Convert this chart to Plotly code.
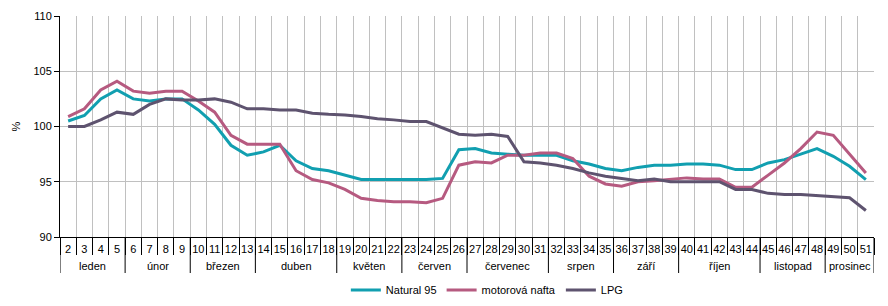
import plotly.graph_objects as go

weeks = list(range(2, 52))
month_names = ["leden", "únor", "březen", "duben", "květen", "červen",
               "červenec", "srpen", "září", "říjen", "listopad", "prosinec"]
month_weeks = [4, 4, 4, 5, 4, 4, 5, 4, 4, 5, 4, 3]

natural95 = [100.5, 101.0, 102.5, 103.3, 102.5, 102.3, 102.5, 102.5, 101.5, 100.2,
             98.3, 97.4, 97.7, 98.3, 96.9, 96.2, 96.0, 95.6, 95.2, 95.2,
             95.2, 95.2, 95.2, 95.3, 97.9, 98.0, 97.6, 97.5, 97.4, 97.4,
             97.4, 96.9, 96.6, 96.2, 96.0, 96.3, 96.5, 96.5, 96.6, 96.6,
             96.5, 96.1, 96.1, 96.7, 97.0, 97.5, 98.0, 97.3, 96.4, 95.2]
nafta = [100.9, 101.6, 103.3, 104.1, 103.2, 103.0, 103.2, 103.2, 102.3, 101.3,
         99.2, 98.4, 98.4, 98.4, 96.0, 95.2, 94.9, 94.3, 93.5, 93.3,
         93.2, 93.2, 93.1, 93.5, 96.5, 96.8, 96.7, 97.4, 97.4, 97.6,
         97.6, 97.1, 95.5, 94.8, 94.6, 95.0, 95.1, 95.2, 95.35, 95.25,
         95.25, 94.5, 94.5, 95.6, 96.7, 98.0, 99.5, 99.2, 97.5, 95.8]
lpg = [100.0, 100.0, 100.6, 101.3, 101.1, 102.0, 102.5, 102.4, 102.4, 102.5,
       102.2, 101.6, 101.6, 101.5, 101.5, 101.2, 101.1, 101.05, 100.9, 100.7,
       100.6, 100.45, 100.45, 99.9, 99.3, 99.2, 99.3, 99.1, 96.8, 96.7,
       96.5, 96.2, 95.8, 95.5, 95.3, 95.1, 95.25, 95.0, 95.0, 95.0,
       95.0, 94.3, 94.3, 93.95, 93.85, 93.85, 93.75, 93.65, 93.55, 92.4]

fig = go.Figure()
fig.add_trace(go.Scatter(x=weeks, y=natural95, name="Natural 95", mode="lines",
                         line=dict(color="#119fb0", width=3)))
fig.add_trace(go.Scatter(x=weeks, y=nafta, name="motorová nafta", mode="lines",
                         line=dict(color="#b65a80", width=3)))
fig.add_trace(go.Scatter(x=weeks, y=lpg, name="LPG", mode="lines",
                         line=dict(color="#5e536f", width=3)))

# plot area is 814 x 221 px; month row sits under the week numbers
plot_w, plot_h = 814, 221
start = weeks[0]
bounds = [start - 0.5]
for name, n in zip(month_names, month_weeks):
    fig.add_annotation(x=start + (n - 1) / 2, y=-29 / plot_h, xref="x", yref="paper",
                       text=name, showarrow=False, font=dict(size=11),
                       xanchor="center", yanchor="middle")
    start += n
    bounds.append(start - 0.5)
for b in bounds:
    fig.add_shape(type="line", xref="x", yref="paper", x0=b, x1=b,
                  y0=0, y1=-36 / plot_h, line=dict(color="black", width=1))

fig.add_annotation(x=-45 / plot_w, y=0.5, xref="paper", yref="paper", text="%",
                   textangle=-90, showarrow=False, font=dict(size=11),
                   xanchor="center", yanchor="middle")

# page body has an 8px margin, so the figure is a bit smaller than the window
fig.update_layout(
    width=872, height=290,
    margin=dict(l=52, r=6, t=8, b=61, autoexpand=False),
    paper_bgcolor="white", plot_bgcolor="white",
    font=dict(family="Liberation Sans, Arial, sans-serif", size=11, color="black"),
    showlegend=True,
    legend=dict(orientation="h", x=0.525, xanchor="center", y=-53 / plot_h,
                yanchor="middle", font=dict(size=11)),
    xaxis=dict(range=[1.5, 51.5], tickmode="array", tickvals=weeks,
               ticktext=[str(w) for w in weeks], ticks="", showgrid=False,
               showline=True, linecolor="black", linewidth=1, zeroline=False,
               automargin=False, tickangle=0, tickfont=dict(size=11),
               ticklabelstandoff=2,
               minor=dict(tickmode="array", tickvals=[w + 0.5 for w in range(1, 52)],
                          ticks="outside", ticklen=17, tickcolor="black",
                          showgrid=True, gridcolor="#c0c0c0", gridwidth=1)),
    yaxis=dict(range=[90, 110], dtick=5, ticks="outside", ticklen=5, tickcolor="black",
               showline=True, linecolor="black", linewidth=1, automargin=False,
               showgrid=True, gridcolor="#c0c0c0", gridwidth=1, zeroline=False,
               tickfont=dict(size=11)),
)

fig.write_html("out.html")
